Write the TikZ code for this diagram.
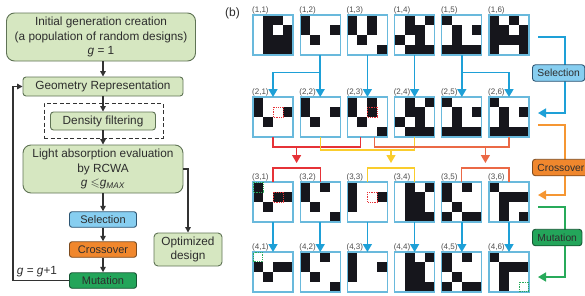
\documentclass[tikz,border=0pt]{standalone}
\usepackage{fontspec}
\setmainfont{Liberation Sans}
\usepackage{amssymb}
\usetikzlibrary{arrows.meta,calc}
\definecolor{boxg}{RGB}{214,231,193}
\definecolor{boxgd}{RGB}{95,115,85}
\definecolor{selc}{RGB}{135,206,240}
\definecolor{seld}{RGB}{45,85,115}
\definecolor{croc}{RGB}{240,135,45}
\definecolor{crod}{RGB}{125,75,30}
\definecolor{mutc}{RGB}{35,165,90}
\definecolor{mutd}{RGB}{20,85,50}
\definecolor{txt}{RGB}{45,45,45}
\definecolor{arrc}{RGB}{50,50,50}
\definecolor{tileb}{RGB}{105,185,220}
\definecolor{cellc}{RGB}{22,22,28}
\definecolor{blu}{RGB}{30,160,215}
\definecolor{redc}{RGB}{230,50,55}
\definecolor{yelc}{RGB}{250,205,45}
\definecolor{orc}{RGB}{235,105,70}
\definecolor{orl}{RGB}{245,150,50}
\definecolor{grl}{RGB}{40,170,90}
\newcommand\gatile[5]{%
  \node[tilebox, anchor=north west] (#1) at (#2,#3) {};
  \foreach \rw [count=\ri from 0] in {#5} {
    \foreach \v [count=\ci from 0] in \rw {
      \ifnum\v=1 \fill[cellc] ($(#1.north west)+(\ci*10,\ri*10)$) rectangle ++(10,10);\fi
    }
  }
  \draw[tileborder] (#1.north west) rectangle (#1.south east);
  \node[tlabel, anchor=south west] (#1l) at ($(#1.north west)+(-1,-0.5)$) {#4};
}
\begin{document}
\begin{tikzpicture}[x=1pt,y=-1pt,
  gbox/.style={draw=boxgd, fill=boxg, line width=0.9pt, text=txt, align=center,
    font=\fontsize{11.8}{14.2}\selectfont, inner sep=0pt},
  cbox/.style={line width=0.9pt, text=txt, rounded corners=2.5pt, inner sep=0pt,
    font=\fontsize{11}{13}\selectfont, minimum width=67pt, minimum height=15.5pt},
  rbox/.style={line width=0.9pt, text=txt, rounded corners=3pt, inner xsep=5pt, inner ysep=0pt,
    font=\fontsize{10.3}{12}\selectfont, minimum height=16.5pt, anchor=west},
  darr/.style={draw=arrc, line width=1.3pt, -{Triangle[width=5.5pt,length=5.5pt]}},
  tilebox/.style={minimum size=40pt, inner sep=0pt, outer sep=0pt},
  tileborder/.style={draw=tileb, line width=1.1pt},
  tlabel/.style={font=\fontsize{8}{9}\selectfont, text=txt!85, inner sep=0pt},
  bline/.style={draw=blu, line width=1.6pt},
  barr/.style={bline, -{Triangle[width=9pt,length=8pt]}},
  redl/.style={draw=redc, line width=1.3pt},
  yell/.style={draw=yelc, line width=1.3pt},
  orgl/.style={draw=orc, line width=1.3pt},
  xarr/.style={line width=1.3pt, -{Triangle[width=9pt,length=8pt]}},
  reddot/.style={draw=redc, densely dotted, line width=0.8pt},
  grdot/.style={draw=grl, densely dotted, line width=0.8pt}]
\useasboundingbox (0,0) rectangle (585,295);

% ---------------- panel (a)
\node[gbox, rounded corners=8pt, minimum width=189pt, minimum height=48pt] (init) at (101,37)
  {Initial generation creation\\(a population of random designs)\\\textit{g} = 1};
\node[gbox, rounded corners=3pt, minimum width=160pt, minimum height=19pt] (geo) at (103,86.5)
  {Geometry Representation};
\node[draw=arrc, dash pattern=on 4pt off 2.5pt, line width=1pt, minimum width=119pt,
  minimum height=35pt, inner sep=0pt] (dashr) at (103.5,120.5) {};
\node[gbox, rounded corners=3pt, minimum width=105pt, minimum height=18pt] (dens) at (103,121)
  {Density filtering};
\node[gbox, rounded corners=8pt, minimum width=160pt, minimum height=48pt] (light) at (103,169)
  {Light absorption evaluation\\by RCWA\\\textit{g} $\leqslant$\textit{g}\textsubscript{\textit{MAX}}};
\node[cbox, fill=selc, draw=seld] (sel) at (103,219.5) {Selection};
\node[cbox, fill=croc, draw=crod] (cro) at (103,249.5) {Crossover};
\node[cbox, fill=mutc, draw=mutd] (mut) at (103,280.5) {Mutation};
\node[gbox, rounded corners=4pt, minimum width=68pt, minimum height=33pt] (opt) at (188,249.5)
  {Optimized\\design};
\node[text=txt, font=\fontsize{11.8}{14}\selectfont, inner sep=0pt] (glab) at (37,271.5)
  {\textit{g} = \textit{g}+1};

\draw[darr] (geo.north |- init.south) -- (geo.north);
\draw[darr] (geo.south) -- (dens.north);
\draw[darr] (dens.south) -- (light.north);
\draw[darr] (light.south) -- (sel.north);
\draw[darr] (sel.south) -- (cro.north);
\draw[darr] (cro.south) -- (mut.north);
\draw[darr] (light.east) -| (opt.north);
\draw[darr] (mut.west) -- ++(-56,0) |- (geo.west);

% ---------------- panel (b)
\node[text=txt, font=\fontsize{12}{14}\selectfont, inner sep=0pt] (blab) at (232.5,13) {(b)};

% row 1
\gatile{t11}{253}{15}{(1,1)}{{0,1,1,0},{0,1,0,1},{0,1,1,1},{0,1,1,1}}
\gatile{t12}{300.2}{15}{(1,2)}{{1,0,0,0},{1,0,0,1},{0,1,0,0},{0,0,0,0}}
\gatile{t13}{347.4}{15}{(1,3)}{{1,0,1,0},{1,0,1,0},{0,1,0,0},{0,0,0,1}}
\gatile{t14}{394.6}{15}{(1,4)}{{0,1,0,1},{0,1,1,0},{1,0,1,0},{0,1,1,1}}
\gatile{t15}{441.8}{15}{(1,5)}{{1,0,0,0},{0,1,0,1},{0,1,0,0},{1,1,1,1}}
\gatile{t16}{489}{15}{(1,6)}{{1,0,1,0},{1,1,0,1},{1,1,1,1},{1,0,0,1}}
% row 2
\gatile{t21}{253}{97}{(2,1)}{{1,0,0,0},{1,0,0,1},{0,1,0,0},{0,0,0,0}}
\gatile{t22}{300.2}{97}{(2,2)}{{1,0,0,0},{1,0,0,1},{0,1,0,0},{0,0,0,0}}
\gatile{t23}{347.4}{97}{(2,3)}{{1,0,1,0},{1,0,1,0},{0,1,0,0},{0,0,0,1}}
\gatile{t24}{394.6}{97}{(2,4)}{{0,1,0,1},{0,1,1,0},{1,0,1,0},{0,1,1,1}}
\gatile{t25}{441.8}{97}{(2,5)}{{1,0,0,0},{0,1,0,1},{0,1,0,0},{1,1,1,1}}
\gatile{t26}{489}{97}{(2,6)}{{1,0,0,0},{0,1,0,1},{0,1,0,0},{1,1,1,1}}
% row 3
\gatile{t31}{253}{182}{(3,1)}{{1,0,0,0},{1,0,1,1},{0,1,0,0},{0,0,0,0}}
\gatile{t32}{300.2}{182}{(3,2)}{{1,0,1,0},{1,0,0,0},{0,1,0,0},{0,0,0,1}}
\gatile{t33}{347.4}{182}{(3,3)}{{1,0,0,0},{1,0,0,1},{1,0,0,0},{0,0,0,0}}
\gatile{t34}{394.6}{182}{(3,4)}{{0,1,0,1},{0,1,1,0},{0,1,1,0},{0,1,1,1}}
\gatile{t35}{441.8}{182}{(3,5)}{{1,0,1,0},{1,0,0,0},{0,1,0,0},{1,0,1,1}}
\gatile{t36}{489}{182}{(3,6)}{{1,0,0,0},{0,1,1,1},{0,1,0,0},{0,1,0,1}}
% row 4
\gatile{t41}{253}{252}{(4,1)}{{0,0,0,0},{1,0,1,1},{0,1,0,0},{0,0,0,0}}
\gatile{t42}{300.2}{252}{(4,2)}{{1,0,1,0},{1,0,0,0},{0,1,0,0},{0,0,0,1}}
\gatile{t43}{347.4}{252}{(4,3)}{{1,0,0,0},{1,0,0,1},{1,0,0,0},{0,0,0,0}}
\gatile{t44}{394.6}{252}{(4,4)}{{0,1,0,1},{0,1,1,0},{0,1,1,0},{0,1,1,1}}
\gatile{t45}{441.8}{252}{(4,5)}{{1,0,1,0},{1,0,0,0},{0,1,0,0},{1,0,1,1}}
\gatile{t46}{489}{252}{(4,6)}{{1,0,0,0},{0,1,1,1},{0,1,0,0},{0,1,0,0}}

% crossover / mutation marks
\draw[reddot] ($(t21.north west)+(20,10)$) rectangle ++(10,10);
\draw[reddot] ($(t23.north west)+(20,10)$) rectangle ++(10,10);
\draw[reddot] ($(t31.north west)+(20,10)$) rectangle ++(10,10);
\draw[reddot] ($(t33.north west)+(20,10)$) rectangle ++(10,10);
\draw[grdot] ($(t31.north west)+(0,0)$) rectangle ++(10,10);
\draw[grdot] ($(t41.north west)+(0.6,0.6)$) rectangle ++(9,9);
\draw[grdot] ($(t46.north west)+(30,30)$) rectangle ++(9.4,9.4);

% selection arrows
\coordinate (r1y) at (0,72.5);
\draw[barr] (t12.south) -- (t22.north);
\draw[barr] (t12.south) |- (t21.north |- r1y) -- (t21.north);
\draw[barr] (t13.south) -- (t23.north);
\draw[barr] (t14.south) -- (t24.north);
\draw[barr] (t15.south) -- (t25.north);
\draw[barr] (t15.south) |- (t26.north |- r1y) -- (t26.north);

% crossover brackets
\draw[redl] (t21.south) -- ++(0,10) -| ($(t23.south)+(-7,0)$);
\draw[yell] (t22.south) -- ++(0,13) -| (t24.south);
\draw[orgl] ($(t23.south)+(7,0)$) -- ++(0,10) -| (t26.south);
\coordinate (xr) at ($(t31.north)!0.5!(t32.north)$);
\coordinate (xy) at ($(t33.north)!0.5!(t34.north)$);
\coordinate (xo) at ($(t35.north)!0.5!(t36.north)$);
\draw[xarr, draw=redc, fill=redc] ($(xr)+(0,-35)$) -- ($(xr)+(0,-19)$);
\draw[xarr, draw=yelc, fill=yelc] ($(xy)+(0,-32)$) -- ($(xy)+(0,-19)$);
\draw[xarr, draw=orc, fill=orc] ($(xo)+(0,-35)$) -- ($(xo)+(0,-19)$);
\draw[redl] (t31.north) -- ++(0,-14) -| (t32.north);
\draw[yell] (t33.north) -- ++(0,-14) -| (t34.north);
\draw[orgl] (t35.north) -- ++(0,-14) -| (t36.north);

% mutation arrows
\foreach \j in {1,...,6} { \draw[barr] (t3\j.south) -- (t4\j.north); }

% right-hand loop arrows and boxes
\draw[barr] ($(t16.east)+(9,2)$) -- ++(27,0) |- ($(t26.east)+(9,-4)$);
\node[rbox, fill=selc, draw=seld] (rsel) at (532,73) {Selection\hspace{12pt}};
\draw[line width=1.6pt, draw=orl, -{Triangle[width=9pt,length=8pt]}]
  ($(t26.east)+(9,8)$) -- ++(27,0) |- ($(t36.east)+(9,-7)$);
\node[rbox, fill=croc, draw=crod] (rcro) at (532,167.5) {Crossover\hspace{12pt}};
\draw[line width=1.6pt, draw=grl, -{Triangle[width=9pt,length=8pt]}]
  ($(t36.east)+(9,5)$) -- ++(27,0) |- ($(t46.east)+(9,5)$);
\node[rbox, fill=mutc, draw=mutd] (rmut) at (532,237.5) {Mutation\hspace{12pt}};
\end{tikzpicture}
\end{document}
